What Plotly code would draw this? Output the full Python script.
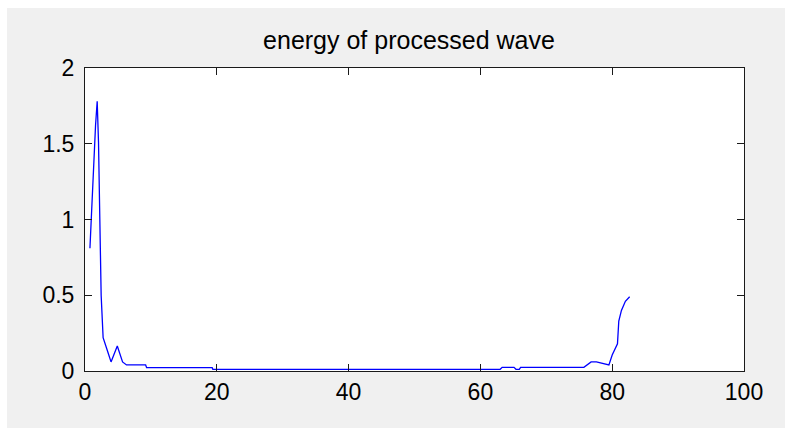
import plotly.graph_objects as go

# data
x_vals = [0.75, 1.2, 1.6, 1.85, 2.05, 2.25, 2.45, 2.75, 3.0, 3.5, 3.95, 4.5, 4.9,
          5.7, 6.3, 9.2, 9.35, 19.3, 19.4, 63.0, 63.3, 65.1, 65.4, 65.9, 66.1,
          75.7, 76.8, 77.6, 79.5, 80.0, 80.8, 81.0, 81.4, 82.0, 82.65]
y_vals = [0.81, 1.29, 1.62, 1.78, 1.51, 1.0, 0.5, 0.22, 0.19, 0.12, 0.06, 0.12, 0.165,
          0.06, 0.04, 0.04, 0.022, 0.022, 0.011, 0.011, 0.024, 0.024, 0.011, 0.011, 0.024,
          0.024, 0.06, 0.06, 0.04, 0.105, 0.18, 0.33, 0.40, 0.46, 0.49]

title_text = "energy of processed wave"
x_ticks = [0, 20, 40, 60, 80, 100]
y_ticks = [0, 0.5, 1, 1.5, 2]
y_tick_labels = ["0", "0.5", "1", "1.5", "2"]

# page has an 8px body margin, so figure origin is at (8, 8)
W, H = 800, 440
L, T = 78, 60
R = W - 737
B = H - 363
pw, ph = W - L - R, H - T - B

fig = go.Figure()
fig.add_trace(go.Scatter(x=x_vals, y=y_vals, mode="lines",
                         line=dict(color="#0000ff", width=1.3), showlegend=False))

axis_common = dict(showgrid=False, zeroline=False, showline=True, linecolor="#1a1a1a",
                   linewidth=1, mirror="ticks", ticks="inside", ticklen=7, tickwidth=1,
                   tickcolor="#1a1a1a", tickfont=dict(family="Liberation Sans, Arial", size=23, color="#000"))

fig.update_xaxes(range=[0, 100], tickvals=x_ticks, ticklabelstandoff=0, **axis_common)
fig.update_yaxes(range=[0, 2], tickvals=y_ticks, ticktext=y_tick_labels, ticklabelstandoff=5, **axis_common)

fig.update_layout(
    width=W, height=H,
    margin=dict(l=L, r=R, t=T, b=B, autoexpand=False),
    paper_bgcolor="#f0f0f0", plot_bgcolor="white",
    title=dict(text=title_text, x=(410 - 8) / W, xanchor="center", xref="container",
               y=1 - 32 / H, yanchor="middle", yref="container",
               font=dict(family="Liberation Sans, Arial", size=25, color="#000")),
)

page_style = ("document.documentElement.style.background='white';"
              "document.documentElement.style.overflow='hidden';"
              "document.body.style.background='#f0f0f0';"
              "document.body.style.margin='8px 0 0 7px';")

fig.write_html("out.html", post_script=page_style)
